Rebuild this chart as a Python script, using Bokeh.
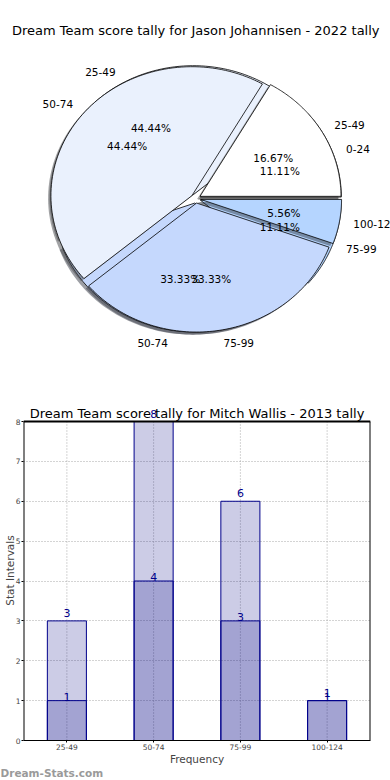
import numpy as np
from bokeh.plotting import figure
from bokeh.models import ColumnDataSource, Range1d, Label, FixedTicker, FactorRange, Title
from bokeh.core.properties import value
from bokeh.embed import file_html
from bokeh.resources import INLINE

# ---------------- data ----------------
title_top = "Dream Team score tally for Jason Johannisen - 2022 tally"
pie_a_labels = ["25-49", "50-74", "75-99", "100-124"]
pie_a_counts = [3, 8, 6, 1]
pie_b_labels = ["0-24", "25-49", "50-74", "75-99"]
pie_b_counts = [2, 8, 6, 2]
pie_colors = ["#ffffff", "#eaf1fd", "#c5d8fd", "#b5d5ff"]

title_bottom = "Dream Team score tally for Mitch Wallis - 2013 tally"
bar_cats = ["25-49", "50-74", "75-99", "100-124"]
bar_total = [3, 8, 6, 1]
bar_part = [1, 4, 3, 1]
y_ticks = [0, 1, 2, 3, 4, 5, 6, 7, 8]

FONT = value("DejaVu Sans")
W = 390

# ---------------- top: pie ----------------
H1 = 400
RX, RY = 141.0, 129.0
CX, CY = 195.2, 198.1
EXPLODE = 0.035
p1 = figure(width=W, height=H1, output_backend="svg", toolbar_location=None,
            x_range=Range1d(-CX / RX, (W - CX) / RX),
            y_range=Range1d(-(H1 - CY) / RY, CY / RY),
            x_axis_type=None, y_axis_type=None,
            min_border=0, min_border_left=0, min_border_right=0,
            min_border_top=0, min_border_bottom=0)
p1.grid.visible = False
p1.outline_line_color = None


def hex_to_rgb(h):
    h = h.lstrip("#")
    return tuple(int(h[i:i + 2], 16) for i in (0, 2, 4))


def pie_geometry(counts, explode):
    frac = np.array(counts, float) / np.sum(counts)
    t2 = np.cumsum(frac) * 2 * np.pi
    t1 = t2 - frac * 2 * np.pi
    mid = (t1 + t2) / 2
    xs, ys, ox, oy = [], [], [], []
    for a, b, m in zip(t1, t2, mid):
        dx, dy = explode * np.cos(m), explode * np.sin(m)
        th = np.linspace(a, b, 90)
        xs.append(np.concatenate([[dx], dx + np.cos(th), [dx]]))
        ys.append(np.concatenate([[dy], dy + np.sin(th), [dy]]))
        ox.append(dx)
        oy.append(dy)
    return frac, mid, xs, ys, np.array(ox), np.array(oy)


def draw_pie(counts, explode):
    frac, mid, xs, ys, ox, oy = pie_geometry(counts, explode)
    shadow_cols = []
    for c in pie_colors:
        r, g, b = hex_to_rgb(c)
        shadow_cols.append("#%02x%02x%02x" % (int(r * 0.3), int(g * 0.3), int(b * 0.3)))
    p1.patches(xs=[x - 0.02 for x in xs], ys=[y - 0.02 for y in ys],
               fill_color=shadow_cols, fill_alpha=0.5, line_color=None)
    p1.patches(xs=xs, ys=ys, fill_color=pie_colors, line_color="black", line_width=0.8)
    return frac, mid, ox, oy


def pie_texts(labels, frac, mid, ox, oy):
    lx = ox + 1.1 * np.cos(mid)
    ly = oy + 1.1 * np.sin(mid)
    right = np.cos(mid) > 0
    for mask, align in ((right, "left"), (~right, "right")):
        src = ColumnDataSource(dict(x=lx[mask], y=ly[mask],
                                    t=[l for l, m in zip(labels, mask) if m]))
        p1.text(x="x", y="y", text="t", source=src, text_align=align,
                text_baseline="middle", text_font=FONT, text_font_size="10.5px",
                text_color="black")
    px = ox + 0.6 * np.cos(mid)
    py = oy + 0.6 * np.sin(mid)
    src = ColumnDataSource(dict(x=px, y=py, t=["%.2f%%" % (f * 100) for f in frac]))
    p1.text(x="x", y="y", text="t", source=src, text_align="center",
            text_baseline="middle", text_font=FONT, text_font_size="10.5px",
            text_color="black")


fb, mb, oxb, oyb = draw_pie(pie_b_counts, EXPLODE)
fa, ma, oxa, oya = draw_pie(pie_a_counts, EXPLODE)
pie_texts(pie_b_labels, fb, mb, oxb, oyb)
pie_texts(pie_a_labels, fa, ma, oxa, oya)

p1.add_layout(Label(x=0, y=(CY - 30) / RY, text=title_top, text_align="center",
                    text_baseline="middle", text_font="DejaVu Sans",
                    text_font_size="13px", text_color="black"))

# ---------------- bottom: bars ----------------
H2 = 380
Y_TOP = 8.527   # frame extends above the box so the title / top label are visible
p2 = figure(width=W, height=H2, output_backend="svg", toolbar_location=None,
            x_range=FactorRange(*bar_cats), y_range=Range1d(0, Y_TOP),
            min_border_left=19, min_border_right=20, min_border_top=0,
            min_border_bottom=40)
p2.outline_line_color = None

for ax in (p2.xaxis, p2.yaxis):
    ax.major_label_text_font = "DejaVu Sans"
    ax.major_label_text_font_size = "7.5px"
    ax.axis_label_text_font = "DejaVu Sans"
    ax.axis_label_text_font_size = "10.5px"
    ax.axis_label_text_font_style = "normal"
    ax.major_tick_in = 0
    ax.major_tick_out = 2
    ax.minor_tick_line_color = None
    ax.major_label_standoff = 1
    ax.axis_label_standoff = 0
p2.yaxis.axis_label_standoff = -3
p2.yaxis.axis_line_color = None
p2.xaxis.axis_line_color = "black"
p2.xaxis.axis_label = "Frequency"
p2.yaxis.axis_label = "Stat Intervals"
p2.yaxis.ticker = FixedTicker(ticks=y_ticks)

p2.xgrid.visible = False
p2.ygrid.grid_line_color = "#a8a8a8"
p2.ygrid.grid_line_dash = "1 2"
p2.ygrid.ticker = FixedTicker(ticks=y_ticks)

# vertical grid lines at the categories, limited to the box
p2.segment(x0=bar_cats, y0=[0] * len(bar_cats), x1=bar_cats, y1=[8] * len(bar_cats),
           line_color="#a8a8a8", line_dash="1 2", line_width=1)

p2.vbar(x=bar_cats, top=bar_total, width=0.45, fill_color="#000080", fill_alpha=0.2,
        line_color="#00008b", line_width=1)
p2.vbar(x=bar_cats, top=bar_part, width=0.45, fill_color="#000080", fill_alpha=0.2,
        line_color="#00008b", line_width=1)

# box (left, right, top)
n = len(bar_cats)
p2.segment(x0=[0, n, 0], y0=[0, 0, 8], x1=[0, n, n], y1=[8, 8, 8],
           line_color="black", line_width=2)

src_t = ColumnDataSource(dict(x=bar_cats, y=[v + 0.1 for v in bar_total],
                              t=[str(v) for v in bar_total]))
src_p = ColumnDataSource(dict(x=bar_cats, y=bar_part, t=[str(v) for v in bar_part]))
for src in (src_t, src_p):
    p2.text(x="x", y="y", text="t", source=src, text_align="center",
            text_baseline="bottom", text_color="#00008b",
            text_font=FONT, text_font_size="11px")

p2.text(x=[n / 2], y=[8.2], text=[title_bottom], text_align="center",
        text_baseline="middle", text_font=FONT, text_font_size="13px",
        text_color="black")

p2.add_layout(Title(text="Dream-Stats.com", align="left", offset=-23, standoff=-5,
                    text_color="#9a9a9a", text_font="DejaVu Sans",
                    text_font_size="10.5px", text_font_style="bold"), "below")

open("out.html", "w").write(file_html([p1, p2], INLINE))
